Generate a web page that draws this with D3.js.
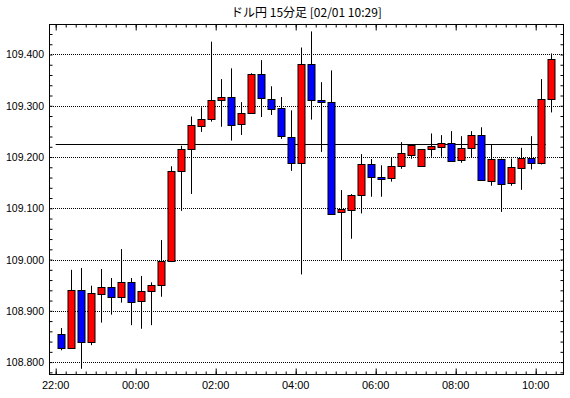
<!DOCTYPE html>
<html>
<head>
<meta charset="utf-8">
<script src="https://cdn.jsdelivr.net/npm/d3@7"></script>
<style>
body { margin: 0; background: #fff; }
text { font-family: "Liberation Sans", Arial, sans-serif; fill: #000; }
</style>
</head>
<body>
<script>
// ドル円 15分足, first bar 22:00
var title = "ドル円 15分足 [02/01 10:29]";
var startTime = new Date(2020, 0, 31, 22, 0);
var refLevel = 109.2245;

var opens = [108.854, 108.827, 108.940, 108.838, 108.933, 108.946, 108.926, 108.9555, 108.9185, 108.937,
  108.9496, 108.996, 109.171, 109.2147, 109.261, 109.2745, 109.312, 109.318, 109.2635, 109.285,
  109.361, 109.314, 109.295, 109.240, 109.189, 109.382, 109.312, 109.308, 109.092, 109.096,
  109.125, 109.1855, 109.162, 109.158, 109.1816, 109.205, 109.1816, 109.2147, 109.2206, 109.228,
  109.193, 109.2167, 109.242, 109.1543, 109.197, 109.1485, 109.1797, 109.199, 109.1894, 109.314];
var highs = [108.8665, 108.980, 108.9835, 108.949, 108.9815, 108.964, 109.0205, 108.964, 108.968, 108.9555,
  109.038, 109.182, 109.222, 109.279, 109.297, 109.425, 109.352, 109.373, 109.307, 109.3635,
  109.389, 109.338, 109.317, 109.291, 109.4136, 109.445, 109.346, 109.369, 109.1355, 109.1277,
  109.2057, 109.196, 109.184, 109.200, 109.229, 109.225, 109.2147, 109.246, 109.2427, 109.2505,
  109.2407, 109.2505, 109.258, 109.2245, 109.197, 109.197, 109.218, 109.2407, 109.352, 109.402];
var lows = [108.823, 108.826, 108.787, 108.833, 108.877, 108.8925, 108.916, 108.872, 108.865, 108.872,
  108.9275, 108.995, 109.095, 109.128, 109.249, 109.269, 109.259, 109.232, 109.243, 109.284,
  109.278, 109.282, 109.2355, 109.173, 108.971, 109.273, 109.210, 109.0875, 108.999, 109.0406,
  109.090, 109.1225, 109.1225, 109.152, 109.177, 109.1966, 109.1816, 109.2005, 109.2005, 109.193,
  109.1888, 109.199, 109.154, 109.144, 109.093, 109.144, 109.136, 109.1758, 109.1855, 109.287];
var closes = [108.827, 108.940, 108.838, 108.934, 108.946, 108.926, 108.9555, 108.9165, 108.938, 108.9496,
  108.9964, 109.172, 109.2147, 109.2615, 109.275, 109.312, 109.318, 109.2635, 109.285, 109.361,
  109.314, 109.295, 109.240, 109.189, 109.382, 109.312, 109.308, 109.090, 109.098, 109.125,
  109.1855, 109.160, 109.158, 109.1816, 109.207, 109.224, 109.2147, 109.2206, 109.228, 109.193,
  109.2167, 109.242, 109.1543, 109.197, 109.1485, 109.1797, 109.199, 109.1894, 109.314, 109.392];

var yTicks = [108.8, 108.9, 109.0, 109.1, 109.2, 109.3, 109.4];
var xTickLabels = ["22:00", "00:00", "02:00", "04:00", "06:00", "08:00", "10:00"];

var W = 570, H = 398;
var pLeft = 49.5, pRight = 563.5, pTop = 24.5, pBottom = 374.5;
var slot = 15 * 60 * 1000;

var svg = d3.select("body").append("svg")
  .attr("width", W)
  .attr("height", H);

var x = d3.scaleTime()
  .domain([new Date(+startTime - 0.62 * slot), new Date(+startTime + 50.78 * slot)])
  .range([pLeft, pRight]);
var y = d3.scaleLinear()
  .domain([108.7758, 109.4585])
  .range([pBottom, pTop]);

var bars = opens.map(function (o, i) {
  return { t: new Date(+startTime + i * slot), o: o, h: highs[i], l: lows[i], c: closes[i] };
});

// dotted grid
svg.append("g").selectAll("line")
  .data(yTicks)
  .enter().append("line")
  .attr("x1", 51).attr("x2", 563)
  .attr("y1", function (d) { return Math.round(y(d)) + 0.5; })
  .attr("y2", function (d) { return Math.round(y(d)) + 0.5; })
  .attr("stroke", "#000")
  .attr("shape-rendering", "crispEdges")
  .attr("stroke-dasharray", "1,1");

// reference line
svg.append("line")
  .attr("x1", x(startTime)).attr("x2", x(new Date(+startTime + 49 * slot)))
  .attr("y1", Math.round(y(refLevel)) + 0.5).attr("y2", Math.round(y(refLevel)) + 0.5)
  .attr("stroke", "#000");

// candles
var g = svg.append("g");
bars.forEach(function (d) {
  var cx = Math.round(x(new Date(+d.t + slot / 2))) + 0.5;
  g.append("line")
    .attr("x1", cx).attr("x2", cx)
    .attr("y1", y(d.h)).attr("y2", y(d.l))
    .attr("stroke", "#000");
  var yt = y(Math.max(d.o, d.c)), yb = y(Math.min(d.o, d.c));
  g.append("rect")
    .attr("x", cx - 3.5)
    .attr("y", Math.round(yt) + 0.5)
    .attr("width", 7)
    .attr("height", Math.max(1, Math.round(yb - yt)))
    .attr("fill", d.c >= d.o ? "#ff0000" : "#0000ff")
    .attr("stroke", "#000");
});

// axes (ticks inward)
var minorY = d3.range(108.78, 109.46, 0.02);
svg.append("g").attr("transform", "translate(" + pLeft + ",0)")
  .call(d3.axisRight(y).tickValues(minorY).tickSize(3).tickFormat(""));
svg.append("g").attr("transform", "translate(" + pRight + ",0)")
  .call(d3.axisLeft(y).tickValues(minorY).tickSize(3).tickFormat(""));
svg.append("g")
  .selectAll("text")
  .data(yTicks)
  .enter().append("text")
  .attr("x", 44)
  .attr("y", function (d) { return y(d) + 4; })
  .attr("text-anchor", "end")
  .attr("font-size", "10.5px")
  .text(d3.format(".3f"));

var minorX = d3.timeMinute.every(15).range(x.domain()[0], x.domain()[1]);
var majorX = xTickLabels.map(function (s, i) { return new Date(+startTime + i * 8 * slot); });

[[pBottom, d3.axisTop], [pTop, d3.axisBottom]].forEach(function (a) {
  svg.append("g").attr("transform", "translate(0," + a[0] + ")")
    .call(a[1](x).tickValues(minorX).tickSize(3).tickFormat(""));
  svg.append("g").attr("transform", "translate(0," + a[0] + ")")
    .call(a[1](x).tickValues(majorX).tickSize(6).tickFormat(""));
});
svg.selectAll(".domain").remove();
svg.selectAll(".tick line").attr("stroke", "#000");

svg.append("g").selectAll("text")
  .data(majorX)
  .enter().append("text")
  .attr("x", function (d) { return x(d); })
  .attr("y", 389)
  .attr("text-anchor", "middle")
  .attr("font-size", "11px")
  .text(function (d, i) { return xTickLabels[i]; });

// frame
svg.append("rect")
  .attr("x", pLeft).attr("y", pTop)
  .attr("width", pRight - pLeft).attr("height", pBottom - pTop)
  .attr("fill", "none").attr("stroke", "#000");

svg.append("text")
  .attr("x", (pLeft + pRight) / 2)
  .attr("y", 17)
  .attr("text-anchor", "middle")
  .attr("font-size", "12px")
  .style("font-family", "'Noto Sans CJK JP', sans-serif")
  .text(title);
</script>
</body>
</html>
